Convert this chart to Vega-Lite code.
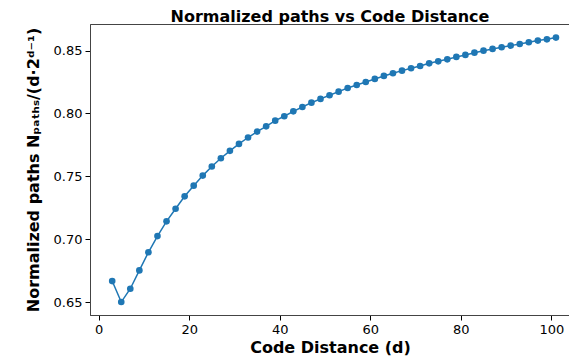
{
  "$schema": "https://vega.github.io/schema/vega-lite/v6.json",
  "autosize": "none",
  "padding": {"left": 90, "top": 24, "right": 0, "bottom": 41},
  "width": 480,
  "height": 291,
  "background": "white",
  "config": {
    "font": "DejaVu Sans",
    "view": {"stroke": "#444", "strokeWidth": 1}
  },
  "title": {
    "text": "Normalized paths vs Code Distance",
    "font": "DejaVu Sans",
    "fontSize": 16,
    "fontWeight": "bold",
    "color": "black",
    "anchor": "middle",
    "offset": 3,
    "dy": 4
  },
  "data": {
    "values": [
      {"d": 3, "v": 0.6667}, {"d": 5, "v": 0.6500}, {"d": 7, "v": 0.6606}, {"d": 9, "v": 0.6752},
      {"d": 11, "v": 0.6896}, {"d": 13, "v": 0.7025}, {"d": 15, "v": 0.7142}, {"d": 17, "v": 0.7242},
      {"d": 19, "v": 0.7341}, {"d": 21, "v": 0.7426}, {"d": 23, "v": 0.7506}, {"d": 25, "v": 0.7578},
      {"d": 27, "v": 0.7644}, {"d": 29, "v": 0.7703}, {"d": 31, "v": 0.7758}, {"d": 33, "v": 0.7809},
      {"d": 35, "v": 0.7856}, {"d": 37, "v": 0.7898}, {"d": 39, "v": 0.7943}, {"d": 41, "v": 0.7978},
      {"d": 43, "v": 0.8017}, {"d": 45, "v": 0.8052}, {"d": 47, "v": 0.8086}, {"d": 49, "v": 0.8116},
      {"d": 51, "v": 0.8145}, {"d": 53, "v": 0.8174}, {"d": 55, "v": 0.8203}, {"d": 57, "v": 0.8227},
      {"d": 59, "v": 0.8251}, {"d": 61, "v": 0.8275}, {"d": 63, "v": 0.8299}, {"d": 65, "v": 0.8320},
      {"d": 67, "v": 0.8341}, {"d": 69, "v": 0.8360}, {"d": 71, "v": 0.8378}, {"d": 73, "v": 0.8399},
      {"d": 75, "v": 0.8415}, {"d": 77, "v": 0.8431}, {"d": 79, "v": 0.8450}, {"d": 81, "v": 0.8466},
      {"d": 83, "v": 0.8484}, {"d": 85, "v": 0.8500}, {"d": 87, "v": 0.8514}, {"d": 89, "v": 0.8527},
      {"d": 91, "v": 0.8540}, {"d": 93, "v": 0.8553}, {"d": 95, "v": 0.8567}, {"d": 97, "v": 0.8580},
      {"d": 99, "v": 0.8590}, {"d": 101, "v": 0.8604}
    ]
  },
  "encoding": {
    "x": {
      "field": "d",
      "type": "quantitative",
      "scale": {"domain": [-1.9, 104.1], "nice": false, "zero": false},
      "axis": {
        "title": "Code Distance (d)",
        "values": [0, 20, 40, 60, 80, 100],
        "grid": false,
        "labelFont": "DejaVu Sans",
        "labelFontSize": 13,
        "labelColor": "black",
        "labelPadding": 3,
        "tickColor": "black",
        "tickSize": 5,
        "domainColor": "#444",
        "titleFont": "DejaVu Sans",
        "titleFontSize": 16,
        "titleFontWeight": "bold",
        "titleColor": "black",
        "titlePadding": 3
      }
    },
    "y": {
      "field": "v",
      "type": "quantitative",
      "scale": {"domain": [0.6397, 0.8712], "nice": false, "zero": false},
      "axis": {
        "title": "Normalized paths  Nₚₐₜₕₛ/(d·2ᵈ⁻¹)",
        "values": [0.65, 0.70, 0.75, 0.80, 0.85],
        "format": ".2f",
        "grid": false,
        "labelFont": "DejaVu Sans",
        "labelFontSize": 13,
        "labelColor": "black",
        "labelPadding": 3,
        "tickColor": "black",
        "tickSize": 5,
        "domainColor": "#444",
        "titleFont": "DejaVu Sans",
        "titleFontSize": 16,
        "titleFontWeight": "bold",
        "titleColor": "black",
        "titlePadding": 12
      }
    }
  },
  "layer": [
    {"mark": {"type": "line", "color": "#1f77b4", "strokeWidth": 1.5}},
    {"mark": {"type": "point", "filled": true, "color": "#1f77b4", "opacity": 1, "size": 44}}
  ]
}
